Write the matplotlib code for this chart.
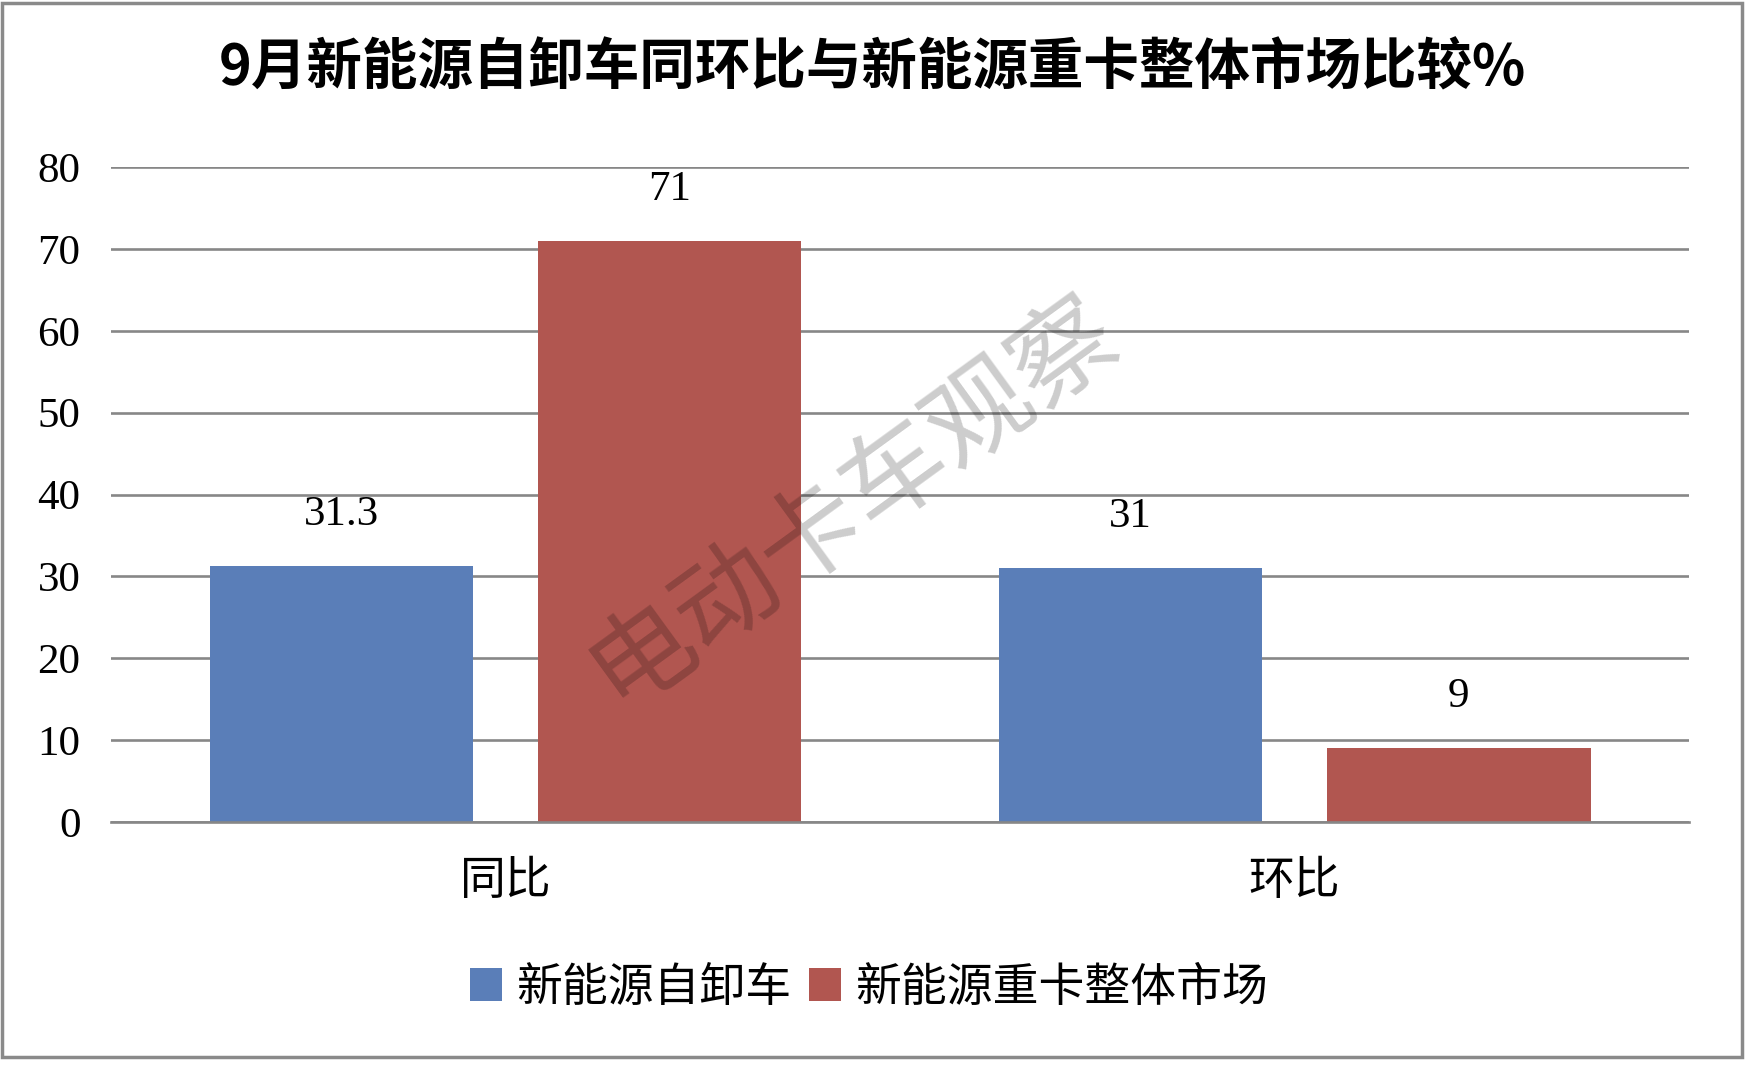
import matplotlib
matplotlib.use("Agg")
import matplotlib.pyplot as plt
import numpy as np
from matplotlib.patches import Rectangle

plt.rcParams['font.family'] = ['Noto Sans CJK SC', 'DejaVu Sans']

# data
categories = ["同比", "环比"]
series_names = ["新能源自卸车", "新能源重卡整体市场"]
dump_truck = [31.3, 31]
heavy_truck = [71, 9]
labels_dump = ["31.3", "31"]
labels_heavy = ["71", "9"]
yticks = [0, 10, 20, 30, 40, 50, 60, 70, 80]

title = "9月新能源自卸车同环比与新能源重卡整体市场比较%"
watermark = "电动卡车观察"

blue = "#5A7EB8"
red = "#B15650"
grid_c = "#878787"

fig = plt.figure(figsize=(17.45, 10.72), dpi=100)
ax = fig.add_axes([0.0636, 0.2332, 0.9044, 0.611])

x = np.arange(len(categories))
w = 0.334
off = 0.208
b1 = ax.bar(x - off, dump_truck, w, color=blue, zorder=3)
b2 = ax.bar(x + off, heavy_truck, w, color=red, zorder=3)

for bars, labs in ((b1, labels_dump), (b2, labels_heavy)):
    for rect, lab in zip(bars, labs):
        ax.annotate(lab, (rect.get_x() + rect.get_width() / 2, rect.get_height()),
                    xytext=(0, 37), textcoords='offset points', ha='center', va='center',
                    fontsize=31, family='Liberation Serif', color='black')

ax.set_xlim(-0.5, 1.5)
ax.set_ylim(0, 80)
ax.set_yticks(yticks)
ax.set_yticklabels([str(t) for t in yticks], family='Liberation Serif', fontsize=31)
ax.set_xticks(x)
ax.set_xticklabels(categories, fontsize=33)
ax.tick_params(axis='y', length=0, pad=22)
ax.tick_params(axis='x', length=0, pad=25)
ax.yaxis.grid(True, color=grid_c, linewidth=1.9, zorder=1)
for s in ['top', 'right', 'left']:
    ax.spines[s].set_visible(False)
ax.spines['bottom'].set_color(grid_c)
ax.spines['bottom'].set_linewidth(1.9)
ax.spines['bottom'].set_zorder(4)

fig.text(0.5, 0.936, title, ha='center', va='center', fontsize=40, fontweight='bold')

fig.legend([b1, b2], series_names, loc='center', bbox_to_anchor=(0.498, 0.079), ncol=2,
           frameon=False, fontsize=33, handlelength=0.7, handleheight=0.7,
           handletextpad=0.3, columnspacing=0.4)

# watermark
fig.text(0.489, 0.533, watermark, ha='center', va='center', fontsize=75, rotation=36,
         color='black', alpha=0.2, zorder=10)

# outer border
fig.patches.append(Rectangle((0.001, 1 - 1057 / 1072), 0.997, 1057 / 1072 - 0.003,
                             transform=fig.transFigure, fill=False,
                             edgecolor='#8A8A8A', linewidth=2.5))

fig.savefig("out.png", dpi=100)
